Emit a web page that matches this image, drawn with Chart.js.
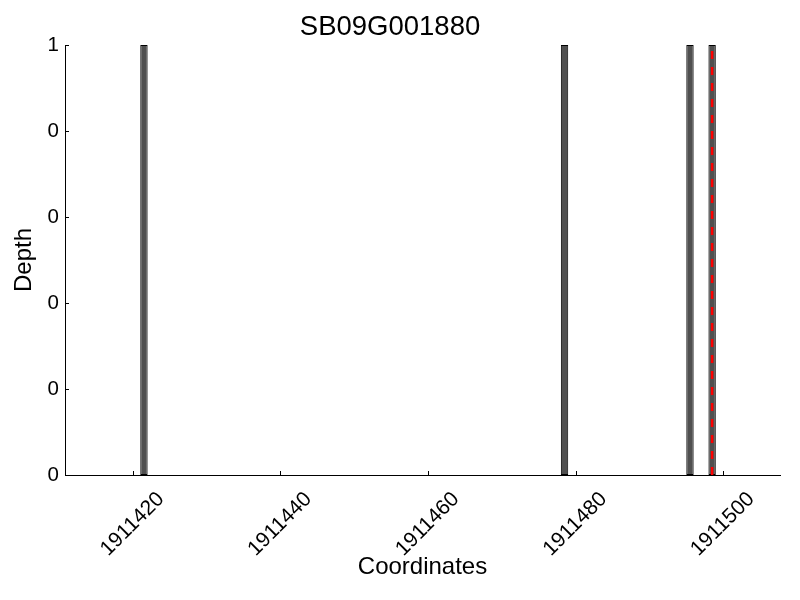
<!DOCTYPE html>
<html>
<head>
<meta charset="utf-8">
<script src="https://cdn.jsdelivr.net/npm/chart.js@4/dist/chart.umd.min.js"></script>
<style>
  html, body { margin: 0; padding: 0; background: #fff; }
</style>
</head>
<body>
<canvas id="chart" width="800" height="600"></canvas>
<script>
const chartTitle = 'SB09G001880';
const positions = [1911421.5, 1911478.5, 1911495.5, 1911498.5];
const depths = [1, 1, 1, 1];
const markerPosition = 1911498.5;
const xRange = [1911410.8, 1911507.7];
const xStep = 20;
const yRange = [0, 1];
const yStep = 0.2;

const FONT = "'Liberation Sans', Arial, sans-serif";

// matplotlib-style inward tick marks
const inwardTicks = {
  id: 'inwardTicks',
  afterDraw(chart) {
    const ctx = chart.ctx;
    const area = chart.chartArea;
    const xs = chart.scales.x, ys = chart.scales.y;
    ctx.save();
    ctx.strokeStyle = '#000';
    ctx.lineWidth = 1;
    ctx.beginPath();
    xs.ticks.forEach(t => {
      const px = Math.round(xs.getPixelForValue(t.value)) + 0.5;
      ctx.moveTo(px, area.bottom);
      ctx.lineTo(px, area.bottom - 4);
    });
    ys.ticks.forEach(t => {
      const py = Math.round(ys.getPixelForValue(t.value)) + 0.5;
      ctx.moveTo(area.left, py);
      ctx.lineTo(area.left + 4, py);
    });
    ctx.stroke();
    ctx.restore();
  }
};

new Chart(document.getElementById('chart').getContext('2d'), {
  type: 'bar',
  data: {
    datasets: [
      {
        type: 'line',
        data: [{ x: markerPosition, y: yRange[0] }, { x: markerPosition, y: yRange[1] }],
        borderColor: '#ff0000',
        borderWidth: 2.5,
        borderDash: [8, 8],
        pointRadius: 0,
        fill: false,
        order: 0
      },
      {
        data: positions.map((p, i) => ({ x: p, y: depths[i] })),
        backgroundColor: '#505050',
        borderColor: '#000000',
        borderWidth: 1,
        borderSkipped: false,
        categoryPercentage: 1,
        barPercentage: 1 / 3,
        order: 1
      }
    ]
  },
  options: {
    responsive: false,
    animation: false,
    layout: { padding: { left: 0, right: 20, top: 0, bottom: 0 } },
    plugins: {
      legend: { display: false },
      tooltip: { enabled: false },
      title: {
        display: true,
        text: chartTitle,
        color: '#000',
        font: { family: FONT, size: 27.5, weight: 'normal' },
        padding: { top: 11, bottom: 1 }
      }
    },
    scales: {
      x: {
        type: 'linear',
        offset: false,
        min: xRange[0],
        max: xRange[1],
        grid: { display: false, drawTicks: false, offset: false },
        border: { display: true, color: '#000', width: 1 },
        ticks: {
          stepSize: xStep,
          includeBounds: false,
          minRotation: 45,
          maxRotation: 45,
          labelOffset: 28,
          padding: 12,
          color: '#000',
          font: { family: FONT, size: 21 },
          callback: v => String(v)
        },
        title: {
          display: true,
          text: 'Coordinates',
          color: '#000',
          font: { family: FONT, size: 24 },
          padding: { top: 0, bottom: 18 }
        },
        afterFit: s => { s.height = 125; }
      },
      y: {
        min: yRange[0],
        max: yRange[1],
        grid: { display: false, drawTicks: false },
        border: { display: true, color: '#000', width: 1 },
        ticks: {
          stepSize: yStep,
          padding: 6,
          color: '#000',
          font: { family: FONT, size: 20.5 },
          callback: v => String(Math.trunc(v + 1e-9))
        },
        title: {
          display: true,
          text: 'Depth',
          color: '#000',
          font: { family: FONT, size: 24 },
          padding: { top: 10, bottom: 0 }
        },
        afterFit: s => { s.width = 65; }
      }
    }
  },
  plugins: [inwardTicks]
});
</script>
</body>
</html>
